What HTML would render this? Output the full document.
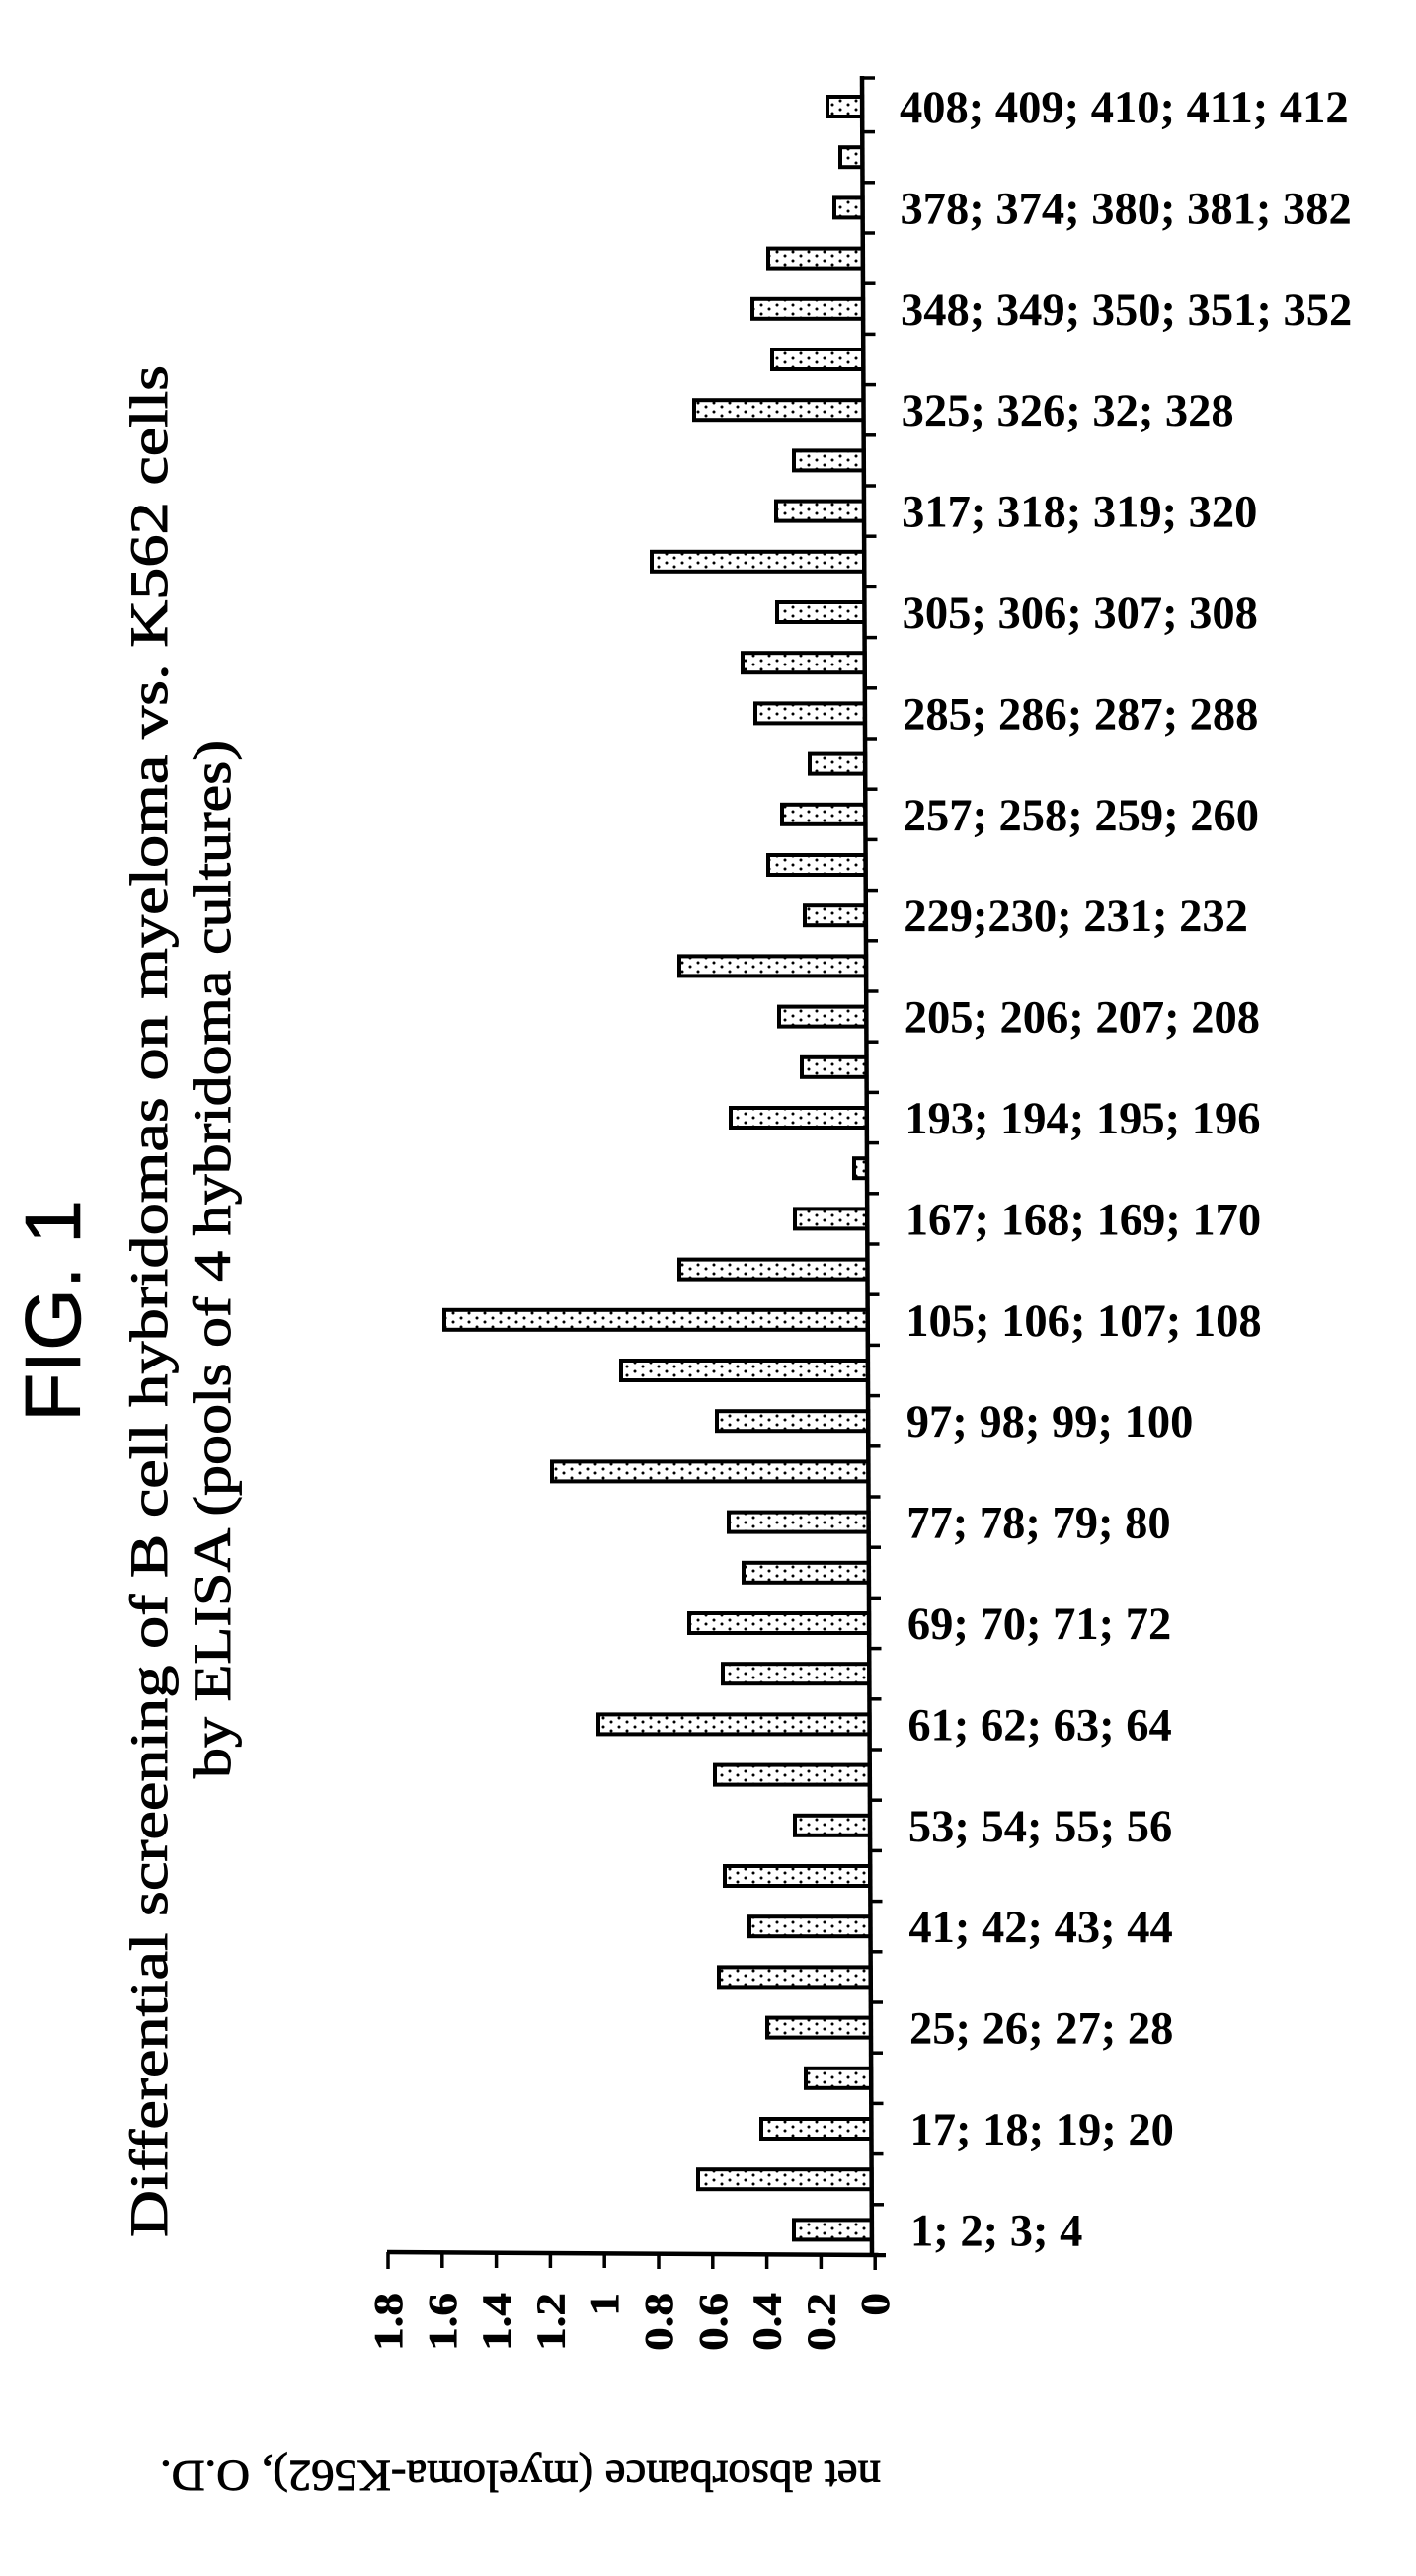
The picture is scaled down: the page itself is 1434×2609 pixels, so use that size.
<!DOCTYPE html>
<html>
<head>
<meta charset="utf-8">
<style>
  html, body { margin: 0; padding: 0; background: #fff; }
  svg { display: block; }
  .t { font-family: "Liberation Serif", serif; fill: #000; stroke: #000; stroke-width: 0.9; }
  .lab { font-family: "Liberation Serif", serif; font-weight: bold; font-size: 46.5px; fill: #000; }
  .tick { font-family: "Liberation Serif", serif; font-weight: bold; font-size: 41px; fill: #000; stroke: #000; stroke-width: 0.6; }
</style>
</head>
<body>
<svg width="1434" height="2609" viewBox="0 0 1434 2609" xmlns="http://www.w3.org/2000/svg">
  <defs>
    <pattern id="d" width="16" height="9" patternUnits="userSpaceOnUse">
      <rect width="16" height="9" fill="#fff"/>
      <circle cx="3" cy="3" r="1.5" fill="#000"/>
      <circle cx="11" cy="7" r="1.5" fill="#000"/>
    </pattern>
  </defs>
  <rect width="1434" height="2609" fill="#fff"/>

  <!-- FIG. 1 -->
  <text transform="translate(81,1440) rotate(-90)" font-family="Liberation Sans, sans-serif" font-size="80" textLength="225" lengthAdjust="spacingAndGlyphs" stroke="#000" stroke-width="0.6">FIG. 1</text>

  <!-- Title -->
  <text class="t" transform="translate(169,2266) rotate(-90)" font-size="54" textLength="1896" lengthAdjust="spacingAndGlyphs">Differential screening of B cell hybridomas on myeloma vs. K562 cells</text>
  <text class="t" transform="translate(233,1801) rotate(-90)" font-size="54" textLength="1051" lengthAdjust="spacingAndGlyphs">by ELISA (pools of 4 hybridoma cultures)</text>

  <!-- Axis label (upside down) -->
  <text class="t" transform="translate(527,2493) rotate(180)" font-size="44" text-anchor="middle" textLength="730" lengthAdjust="spacingAndGlyphs">net absorbance (myeloma-K562), O.D.</text>

  <!-- Bars -->
  <g stroke="#000" stroke-width="4" fill="url(#d)">
    <rect x="838" y="98" width="35.1" height="20"/>
    <rect x="851" y="149.2" width="22.4" height="20"/>
    <rect x="845" y="200.4" width="28.6" height="20"/>
    <rect x="778" y="251.6" width="95.8" height="20"/>
    <rect x="762" y="302.8" width="112.1" height="20"/>
    <rect x="782" y="354" width="92.3" height="20"/>
    <rect x="703" y="405.2" width="171.5" height="20"/>
    <rect x="804" y="456.4" width="70.8" height="20"/>
    <rect x="786" y="507.6" width="89" height="20"/>
    <rect x="660" y="558.8" width="215.2" height="20"/>
    <rect x="787" y="610" width="88.5" height="20"/>
    <rect x="752" y="661.2" width="123.7" height="20"/>
    <rect x="765" y="712.4" width="110.9" height="20"/>
    <rect x="820" y="763.6" width="56.2" height="20"/>
    <rect x="792" y="814.8" width="84.4" height="20"/>
    <rect x="778" y="866" width="98.6" height="20"/>
    <rect x="815" y="917.2" width="61.9" height="20"/>
    <rect x="688" y="968.4" width="189.1" height="20"/>
    <rect x="789" y="1019.6" width="88.3" height="20"/>
    <rect x="812" y="1070.8" width="65.5" height="20"/>
    <rect x="740" y="1122" width="137.8" height="20"/>
    <rect x="865" y="1173.2" width="13" height="20"/>
    <rect x="805" y="1224.4" width="73.2" height="20"/>
    <rect x="688" y="1275.6" width="190.5" height="20"/>
    <rect x="450" y="1326.8" width="428.7" height="20"/>
    <rect x="629" y="1378" width="249.9" height="20"/>
    <rect x="726" y="1429.2" width="153.2" height="20"/>
    <rect x="559" y="1480.4" width="320.4" height="20"/>
    <rect x="738" y="1531.6" width="141.6" height="20"/>
    <rect x="753" y="1582.8" width="126.9" height="20"/>
    <rect x="698" y="1634" width="182.1" height="20"/>
    <rect x="732" y="1685.2" width="148.3" height="20"/>
    <rect x="606" y="1736.4" width="274.6" height="20"/>
    <rect x="724" y="1787.6" width="156.8" height="20"/>
    <rect x="805" y="1838.8" width="76" height="20"/>
    <rect x="734" y="1890" width="147.3" height="20"/>
    <rect x="759" y="1941.2" width="122.5" height="20"/>
    <rect x="728" y="1992.4" width="153.7" height="20"/>
    <rect x="777" y="2043.6" width="105" height="20"/>
    <rect x="816" y="2094.8" width="66.2" height="20"/>
    <rect x="771" y="2146" width="111.4" height="20"/>
    <rect x="707" y="2197.2" width="175.7" height="20"/>
    <rect x="804" y="2248.4" width="78.9" height="20"/>
  </g>

  <!-- Vertical (category) axis -->
  <line x1="873" y1="77" x2="883" y2="2286" stroke="#000" stroke-width="4.5"/>
  <g stroke="#000" stroke-width="3.5">
    <line x1="873" y1="79" x2="886" y2="79"/>
    <line x1="873.3" y1="133.6" x2="886" y2="133.6"/>
    <line x1="873.5" y1="184.8" x2="886" y2="184.8"/>
    <line x1="873.7" y1="236" x2="886" y2="236"/>
    <line x1="874" y1="287.2" x2="886.5" y2="287.2"/>
    <line x1="874.2" y1="338.4" x2="886.5" y2="338.4"/>
    <line x1="874.4" y1="389.6" x2="887" y2="389.6"/>
    <line x1="874.6" y1="440.8" x2="887" y2="440.8"/>
    <line x1="874.9" y1="492" x2="887" y2="492"/>
    <line x1="875.1" y1="543.2" x2="887.5" y2="543.2"/>
    <line x1="875.3" y1="594.4" x2="887.5" y2="594.4"/>
    <line x1="875.6" y1="645.6" x2="888" y2="645.6"/>
    <line x1="875.8" y1="696.8" x2="888" y2="696.8"/>
    <line x1="876" y1="748" x2="888" y2="748"/>
    <line x1="876.3" y1="799.2" x2="888.5" y2="799.2"/>
    <line x1="876.5" y1="850.4" x2="888.5" y2="850.4"/>
    <line x1="876.7" y1="901.6" x2="889" y2="901.6"/>
    <line x1="877" y1="952.8" x2="889" y2="952.8"/>
    <line x1="877.2" y1="1004" x2="889.5" y2="1004"/>
    <line x1="877.4" y1="1055.2" x2="889.5" y2="1055.2"/>
    <line x1="877.7" y1="1106.4" x2="890" y2="1106.4"/>
    <line x1="877.9" y1="1157.6" x2="890" y2="1157.6"/>
    <line x1="878.1" y1="1208.8" x2="890" y2="1208.8"/>
    <line x1="878.4" y1="1260" x2="890.5" y2="1260"/>
    <line x1="878.6" y1="1311.2" x2="890.5" y2="1311.2"/>
    <line x1="878.8" y1="1362.4" x2="891" y2="1362.4"/>
    <line x1="879.1" y1="1413.6" x2="891" y2="1413.6"/>
    <line x1="879.3" y1="1464.8" x2="891.5" y2="1464.8"/>
    <line x1="879.5" y1="1516" x2="891.5" y2="1516"/>
    <line x1="879.8" y1="1567.2" x2="892" y2="1567.2"/>
    <line x1="880" y1="1618.4" x2="892" y2="1618.4"/>
    <line x1="880.2" y1="1669.6" x2="892.5" y2="1669.6"/>
    <line x1="880.4" y1="1720.8" x2="892.5" y2="1720.8"/>
    <line x1="880.7" y1="1772" x2="893" y2="1772"/>
    <line x1="880.9" y1="1823.2" x2="893" y2="1823.2"/>
    <line x1="881.1" y1="1874.4" x2="893" y2="1874.4"/>
    <line x1="881.4" y1="1925.6" x2="893.5" y2="1925.6"/>
    <line x1="881.6" y1="1976.8" x2="893.5" y2="1976.8"/>
    <line x1="881.8" y1="2028" x2="894" y2="2028"/>
    <line x1="882.1" y1="2079.2" x2="894" y2="2079.2"/>
    <line x1="882.3" y1="2130.4" x2="894.5" y2="2130.4"/>
    <line x1="882.5" y1="2181.6" x2="894.5" y2="2181.6"/>
    <line x1="882.8" y1="2232.8" x2="895" y2="2232.8"/>
  </g>

  <!-- Horizontal (value) axis -->
  <line x1="392" y1="2281" x2="897" y2="2284" stroke="#000" stroke-width="4.5"/>
  <g stroke="#000" stroke-width="3.5">
    <line x1="393" y1="2281" x2="393" y2="2298"/>
    <line x1="447.8" y1="2281.3" x2="447.8" y2="2297"/>
    <line x1="502.6" y1="2281.6" x2="502.6" y2="2297"/>
    <line x1="557.4" y1="2282" x2="557.4" y2="2297"/>
    <line x1="612.2" y1="2282.3" x2="612.2" y2="2297"/>
    <line x1="667" y1="2282.6" x2="667" y2="2298"/>
    <line x1="721.8" y1="2283" x2="721.8" y2="2298"/>
    <line x1="776.6" y1="2283.3" x2="776.6" y2="2298"/>
    <line x1="831.4" y1="2283.6" x2="831.4" y2="2298"/>
    <line x1="886.2" y1="2284" x2="886.2" y2="2299"/>
  </g>

  <!-- Tick labels -->
  <g class="tick" text-anchor="end">
    <text transform="translate(407,2322) rotate(-90) scale(1.15,1)">1.8</text>
    <text transform="translate(461.8,2322) rotate(-90) scale(1.15,1)">1.6</text>
    <text transform="translate(516.6,2322) rotate(-90) scale(1.15,1)">1.4</text>
    <text transform="translate(571.4,2322) rotate(-90) scale(1.15,1)">1.2</text>
    <text transform="translate(626.2,2322) rotate(-90) scale(1.15,1)">1</text>
    <text transform="translate(681,2322) rotate(-90) scale(1.15,1)">0.8</text>
    <text transform="translate(735.8,2322) rotate(-90) scale(1.15,1)">0.6</text>
    <text transform="translate(790.6,2322) rotate(-90) scale(1.15,1)">0.4</text>
    <text transform="translate(845.4,2322) rotate(-90) scale(1.15,1)">0.2</text>
    <text transform="translate(900.2,2322) rotate(-90) scale(1.15,1)">0</text>
  </g>

  <!-- Category labels -->
  <g class="lab">
    <text x="911" y="124">408; 409; 410; 411; 412</text>
    <text x="911.5" y="226.4">378; 374; 380; 381; 382</text>
    <text x="912" y="328.8">348; 349; 350; 351; 352</text>
    <text x="912.6" y="431.2">325; 326; 32; 328</text>
    <text x="913.1" y="533.6">317; 318; 319; 320</text>
    <text x="913.6" y="636">305; 306; 307; 308</text>
    <text x="914.1" y="738.4">285; 286; 287; 288</text>
    <text x="914.7" y="840.8">257; 258; 259; 260</text>
    <text x="915.2" y="943.2">229;230; 231; 232</text>
    <text x="915.7" y="1045.6">205; 206; 207; 208</text>
    <text x="916.2" y="1148">193; 194; 195; 196</text>
    <text x="916.8" y="1250.4">167; 168; 169; 170</text>
    <text x="917.3" y="1352.8">105; 106; 107; 108</text>
    <text x="917.8" y="1455.2">97; 98; 99; 100</text>
    <text x="918.3" y="1557.6">77; 78; 79; 80</text>
    <text x="918.9" y="1660">69; 70; 71; 72</text>
    <text x="919.4" y="1762.4">61; 62; 63; 64</text>
    <text x="919.9" y="1864.8">53; 54; 55; 56</text>
    <text x="920.4" y="1967.2">41; 42; 43; 44</text>
    <text x="921" y="2069.6">25; 26; 27; 28</text>
    <text x="921.5" y="2172">17; 18; 19; 20</text>
    <text x="922" y="2274.4">1; 2; 3; 4</text>
  </g>
</svg>
</body>
</html>
